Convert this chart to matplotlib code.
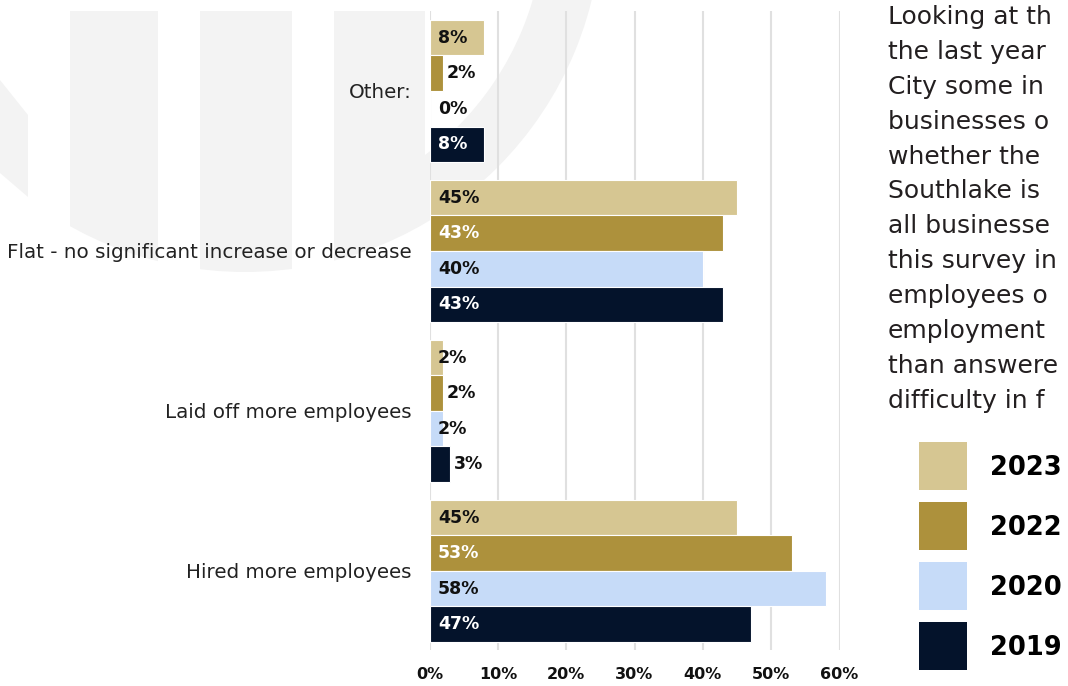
import numpy as np
import matplotlib.pyplot as plt
from matplotlib.patches import Rectangle, Polygon, Circle, Wedge
from matplotlib.legend_handler import HandlerBase

# ---------------------------------------------------------------
# survey data: change in staffing over the last year, by year

categories = ["Hired more employees",
              "Laid off more employees",
              "Flat - no significant increase or decrease",
              "Other:"]

years = ["2023", "2022", "2020", "2019"]

pct_2023 = [45, 2, 45, 8]
pct_2022 = [53, 2, 43, 2]
pct_2020 = [58, 2, 40, 0]
pct_2019 = [47, 3, 43, 8]

xticks = [0, 10, 20, 30, 40, 50, 60]

# side column text, running off the right edge of the page
blurb = ["Looking at th",
         "the last year",
         "City some in",
         "businesses o",
         "whether the",
         "Southlake is",
         "all businesse",
         "this survey in",
         "employees o",
         "employment",
         "than answere",
         "difficulty in f"]

# ---------------------------------------------------------------
# styling

series = [pct_2023, pct_2022, pct_2020, pct_2019]
colors = ["#d6c692", "#ad913c", "#c6dbf8", "#04132b"]
light = [True, False, True, False]
textDark = "#111111"
wmColor = "#f3f3f3"

legendSize = 18.5
swatchPts = 48 * 0.72          # 48 px square swatch


class SquareSwatch(HandlerBase):
    # large square swatch centred on the label's cap height
    def create_artists(self, legend, orig_handle, xdescent, ydescent,
                       width, height, fontsize, trans):
        patch = orig_handle.patches[0]
        cy = 0.36 * fontsize
        sq = Rectangle((-xdescent + width - swatchPts, cy - swatchPts / 2.0),
                       swatchPts, swatchPts,
                       facecolor=patch.get_facecolor(), edgecolor='none',
                       transform=trans)
        return [sq]


W, H = 1068, 686
fig = plt.figure(figsize=(W / 100.0, H / 100.0), dpi=100)

# full-figure canvas in pixel units for the faint logo and side text
bg = fig.add_axes([0, 0, 1, 1])
bg.set_xlim(0, W)
bg.set_ylim(H, 0)
bg.axis('off')
bg.set_zorder(0)

ring = Circle((245, -85), 357, transform=bg.transData)
for x0, x1 in [(70, 158), (200, 292), (334, 425)]:
    stripe = Rectangle((x0, 11), x1 - x0, 400, fc=wmColor, ec='none')
    bg.add_patch(stripe)
    stripe.set_clip_path(ring)

arc = Wedge((245, -85), 357, 0, 360, width=57, fc=wmColor, ec='none')
bg.add_patch(arc)
arc.set_clip_path(Rectangle((425, 0), 700, H, transform=bg.transData))

bg.add_patch(Polygon([(0, 80), (28, 115), (28, 197), (0, 173)],
                     closed=True, fc=wmColor, ec='none'))

for k, line in enumerate(blurb):
    bg.text(888, 24 + k * 34.9, line, fontsize=18, color="#231f20",
            va='baseline', ha='left')

# ---------------------------------------------------------------
# bar chart

ax = fig.add_axes([429.5 / W, 1 - 650.0 / H, 410.0 / W, 639.0 / H])
ax.set_zorder(1)
ax.patch.set_visible(False)

barH = 0.222
offsets = [1.5 * barH, 0.5 * barH, -0.5 * barH, -1.5 * barH]
ypos = np.arange(len(categories))

handles = []
for vals, col, off, yr, isLight in zip(series, colors, offsets, years, light):
    bars = ax.barh(ypos + off, vals, height=barH, color=col,
                   edgecolor='white', linewidth=0.8, label=yr, zorder=3)
    handles.append(bars)
    for yy, v in zip(ypos + off, vals):
        if isLight:
            ax.annotate("%d%%" % v, xy=(0, yy), xytext=(6, 0),
                        textcoords='offset points', va='center', ha='left',
                        fontsize=12.5, fontweight='bold', color=textDark,
                        zorder=4)
        elif v >= 5:
            ax.annotate("%d%%" % v, xy=(0, yy), xytext=(6, 0),
                        textcoords='offset points', va='center', ha='left',
                        fontsize=12.5, fontweight='bold', color='white',
                        zorder=4)
        else:
            ax.annotate("%d%%" % v, xy=(v, yy), xytext=(2.5, 0),
                        textcoords='offset points', va='center', ha='left',
                        fontsize=12.5, fontweight='bold', color=textDark,
                        zorder=4)

ax.set_xlim(0, 60)
ax.set_ylim(-0.494, 3.5)
ax.set_xticks(xticks)
ax.set_xticklabels(["%d%%" % t for t in xticks], fontsize=11.5,
                   fontweight='bold', color=textDark)
ax.set_yticks(ypos)
ax.set_yticklabels(categories, fontsize=14.3, color="#222222")
ax.tick_params(axis='both', length=0)
ax.tick_params(axis='x', pad=12)
ax.tick_params(axis='y', pad=13)
ax.set_axisbelow(True)
ax.xaxis.grid(True, color='#e0e0e0', linewidth=1.5)
for sp in ax.spines.values():
    sp.set_visible(False)

# legend rows: 60 px pitch between swatches
rowPts = 60 * 0.72
hh = 2.0
boxPts = legendSize * (0.65 * hh + 0.245)
fig.legend(handles, years, loc='upper left',
           bbox_to_anchor=(919.0 / W, 1 - 447.0 / H),
           frameon=False, prop=dict(weight='bold', size=legendSize),
           handler_map={type(handles[0]): SquareSwatch()},
           handlelength=swatchPts / legendSize, handleheight=hh,
           labelspacing=(rowPts - boxPts) / legendSize,
           handletextpad=0.9, borderpad=0, borderaxespad=0)

fig.savefig("out.png", dpi=100)
